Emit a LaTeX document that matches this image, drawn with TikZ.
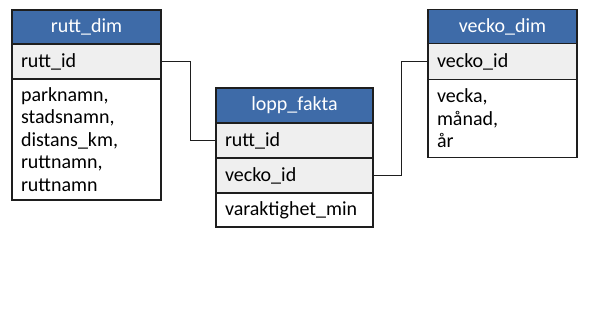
\documentclass[tikz,border=0pt]{standalone}
\usepackage{fontspec}
\setmainfont{Carlito}
\definecolor{hblue}{RGB}{62,107,168}
\definecolor{rowgray}{RGB}{239,239,239}
\definecolor{edge}{RGB}{30,30,30}
\begin{document}
\begin{tikzpicture}[x=1pt,y=-1pt,
  cell/.style={draw=edge, line width=1.2pt, inner ysep=0pt, inner xsep=9pt, font=\fontsize{20}{22.5}\selectfont},
  hdr/.style={cell, fill=hblue, text=white, align=center},
  keyrow/.style={cell, fill=rowgray, align=left},
  bodyrow/.style={cell, fill=white, align=left},
  link/.style={draw=edge, line width=1.2pt}]
\useasboundingbox (0,0) rectangle (590,322);
% rutt_dim
\node[hdr, minimum width=149pt, minimum height=34pt, text width=131pt] (rdh) at (86.5,27) {rutt\_dim};
\node[keyrow, minimum width=149pt, minimum height=35pt, text width=131pt] (rd1) at (86.5,61.5) {rutt\_id};
\node[bodyrow, minimum width=149pt, minimum height=121pt, text width=131pt] (rdb) at (86.5,139.5) {parknamn,\\stadsnamn,\\distans\_km,\\ruttnamn,\\ruttnamn};
% lopp_fakta
\node[hdr, minimum width=157pt, minimum height=35pt, text width=139pt] (lfh) at (294.5,105.5) {lopp\_fakta};
\node[keyrow, minimum width=157pt, minimum height=35pt, text width=139pt] (lf1) at (294.5,140.5) {rutt\_id};
\node[keyrow, minimum width=157pt, minimum height=35pt, text width=139pt] (lf2) at (294.5,175.5) {vecko\_id};
\node[bodyrow, minimum width=157pt, minimum height=34pt, text width=139pt] (lfb) at (294.5,210) {varaktighet\_min};
% vecko_dim
\node[hdr, minimum width=149pt, minimum height=34pt, text width=131pt] (vdh) at (502.5,26.5) {vecko\_dim};
\node[keyrow, minimum width=149pt, minimum height=36pt, text width=131pt] (vd1) at (502.5,61.5) {vecko\_id};
\node[bodyrow, minimum width=149pt, minimum height=78pt, text width=131pt] (vdb) at (502.5,118.5) {vecka,\\månad,\\år};
% connectors
\draw[link] (rd1.east) -- ([xshift=29pt]rd1.east) |- (lf1.west);
\draw[link] (lf2.east) -- ([xshift=28pt]lf2.east) |- (vd1.west);
\end{tikzpicture}
\end{document}
